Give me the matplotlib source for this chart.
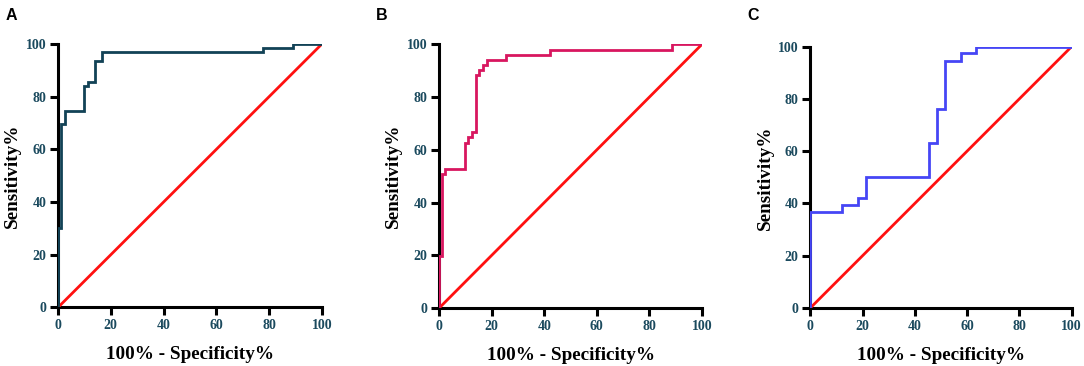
import numpy as np
import matplotlib.pyplot as plt

# ROC step points (100% - specificity, sensitivity)
a_fpr = [0, 0, 1.0, 1.0, 2.5, 2.5, 9.9, 9.9, 11.4, 11.4, 13.9, 13.9, 16.8, 16.8, 77.5, 77.5, 89.0, 89.0, 100]
a_tpr = [0, 30.2, 30.2, 69.8, 69.8, 74.6, 74.6, 84.1, 84.1, 85.7, 85.7, 93.7, 93.7, 96.8, 96.8, 98.4, 98.4, 100, 100]

b_fpr = [0, 0, 1.3, 1.3, 2.4, 2.4, 9.8, 9.8, 11.2, 11.2, 12.6, 12.6, 14.0, 14.0, 15.3, 15.3, 16.7, 16.7, 18.1, 18.1,
         25.4, 25.4, 42.2, 42.2, 88.7, 88.7, 100]
b_tpr = [0, 19.6, 19.6, 51.0, 51.0, 52.9, 52.9, 62.7, 62.7, 64.7, 64.7, 66.7, 66.7, 88.2, 88.2, 90.2, 90.2, 92.2,
         92.2, 94.1, 94.1, 96.1, 96.1, 98.0, 98.0, 100, 100]

c_fpr = [0, 0, 12.1, 12.1, 18.2, 18.2, 21.2, 21.2, 45.5, 45.5, 48.5, 48.5, 51.5, 51.5, 57.6, 57.6, 63.6, 63.6, 100]
c_tpr = [0, 36.8, 36.8, 39.5, 39.5, 42.1, 42.1, 50.0, 50.0, 63.2, 63.2, 76.3, 76.3, 94.7, 94.7, 97.4, 97.4, 100, 100]

panels = [
    ('A', a_fpr, a_tpr, '#124256', [0.0535, 0.160, 0.2435, 0.720], 0.005),
    ('B', b_fpr, b_tpr, '#d8165f', [0.405, 0.158, 0.2426, 0.721], 0.347),
    ('C', c_fpr, c_tpr, '#4646f5', [0.7475, 0.1585, 0.241, 0.714], 0.689),
]
ticks = [0, 20, 40, 60, 80, 100]
tick_col = '#1b4a5e'
serif = ['Liberation Serif', 'DejaVu Serif']

fig = plt.figure(figsize=(10.84, 3.66), dpi=100)

for lab, fx, ty, col, pos, lx in panels:
    ax = fig.add_axes(pos)
    ax.plot([0, 100], [0, 100], color='#ff1010', lw=2.0, zorder=3)
    ax.plot(fx, ty, color=col, lw=2.0, zorder=4, solid_joinstyle='miter')
    ax.set_xlim(0, 100)
    ax.set_ylim(0, 100)
    ax.spines['top'].set_visible(False)
    ax.spines['right'].set_visible(False)
    for s in ['left', 'bottom']:
        ax.spines[s].set_linewidth(2.2)
        ax.spines[s].set_color('black')
    ax.set_xticks(ticks)
    ax.set_yticks(ticks)
    ax.tick_params(direction='out', length=5.5, width=2.2, colors='black',
                   labelcolor=tick_col, labelsize=10, pad=3)
    for t in ax.get_xticklabels() + ax.get_yticklabels():
        t.set_family(serif)
        t.set_fontweight('bold')
    ax.set_xlabel('100% - Specificity%', family=serif, fontweight='bold', fontsize=13.8, labelpad=10)
    ax.set_ylabel('Sensitivity%', family=serif, fontweight='bold', fontsize=13.8, labelpad=3)
    fig.text(lx, 0.958, lab, family=['Liberation Sans', 'DejaVu Sans'],
             fontweight='bold', fontsize=11.5, ha='left', va='center')

fig.savefig('out.png', dpi=100)
